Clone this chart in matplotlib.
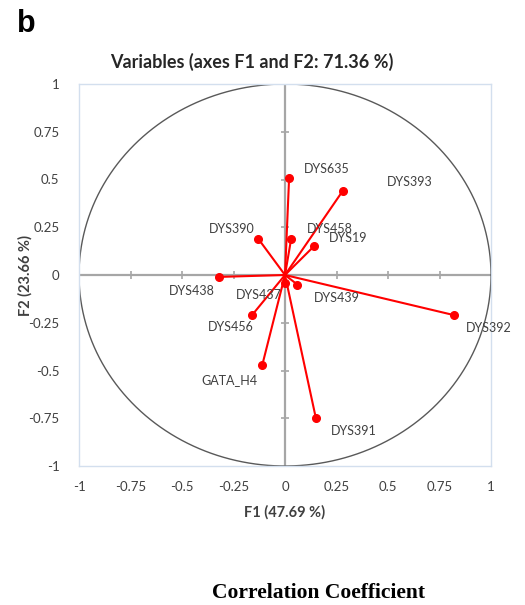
import numpy as np
import matplotlib
matplotlib.use('Agg')
import matplotlib.pyplot as plt

plt.rcParams['font.family'] = ['Lato', 'DejaVu Sans']

# PCA variable coordinates on F1 / F2
variables = ['DYS635', 'DYS393', 'DYS390', 'DYS458', 'DYS19', 'DYS438',
             'DYS437', 'DYS439', 'DYS456', 'GATA_H4', 'DYS391', 'DYS392']
f1 = [0.02, 0.28, -0.13, 0.03, 0.14, -0.32, 0.00, 0.06, -0.16, -0.11, 0.15, 0.82]
f2 = [0.51, 0.44, 0.19, 0.19, 0.15, -0.01, -0.04, -0.05, -0.21, -0.47, -0.75, -0.21]
ticks = [-1, -0.75, -0.5, -0.25, 0, 0.25, 0.5, 0.75, 1]
tick_labels = ['-1', '-0.75', '-0.5', '-0.25', '0', '0.25', '0.5', '0.75', '1']

# label offsets in pixels (dx, dy) from each point
label_offsets = [(38, 9), (67, 9), (-26, 10), (39, 10), (34, 8), (-27, -14),
                 (-26, -12), (39, -13), (-21, -12), (-33, -15), (38, -13), (35, -13)]

TEXT = '#404040'
GRID = '#A6A6A6'
FRAME = '#D3DFEE'

fig = plt.figure(figsize=(5.25, 6.05), dpi=100)
ax = fig.add_axes([79 / 525, 1 - 466 / 605, 412 / 525, 382 / 605])
ax.set_xlim(-1, 1)
ax.set_ylim(-1, 1)

for s in ax.spines.values():
    s.set_color(FRAME)
    s.set_linewidth(1)

# centre axes with cross ticks
ax.axhline(0, color=GRID, lw=1.6, zorder=1)
ax.axvline(0, color=GRID, lw=1.6, zorder=1)
inner = [t for t in ticks if abs(t) < 1]
ax.plot(inner, np.zeros(len(inner)), ls='none', marker='|', ms=6, mew=1.2, color=GRID, zorder=1)
ax.plot(np.zeros(len(inner)), inner, ls='none', marker='_', ms=6, mew=1.2, color=GRID, zorder=1)

# correlation circle
th = np.linspace(0, 2 * np.pi, 400)
ax.plot(np.cos(th), np.sin(th), color='#595959', lw=1.0, zorder=2)

# vectors
for x, y, name, (dx, dy) in zip(f1, f2, variables, label_offsets):
    ax.plot([0, x], [0, y], color='#FF0000', lw=1.5, zorder=3)
    ax.plot(x, y, 'o', color='#FF0000', ms=5.5, zorder=4)
    ax.annotate(name, (x, y), xytext=(dx, dy), textcoords='offset pixels',
                ha='center', va='center', fontsize=9, color=TEXT, zorder=5)

ax.set_xticks(ticks)
ax.set_xticklabels(tick_labels)
ax.set_yticks(ticks)
ax.set_yticklabels(tick_labels)
ax.tick_params(axis='x', length=0, labelsize=9.5, colors=TEXT, pad=11)
ax.tick_params(axis='y', length=0, labelsize=9.5, colors=TEXT, pad=14)

ax.set_xlabel('F1 (47.69 %)', fontsize=10.5, fontweight='bold', color=TEXT)
ax.set_ylabel('F2 (23.66 %)', fontsize=10.5, fontweight='bold', color=TEXT)
ax.xaxis.set_label_coords(0.5, (466 - 512) / 382)
ax.yaxis.set_label_coords((25 - 79) / 412, 0.5)
ax.xaxis.label.set_va('center')
ax.yaxis.label.set_va('center')

fig.text(252 / 525, 1 - 62 / 605, 'Variables (axes F1 and F2: 71.36 %)', ha='center', va='center',
         fontsize=13, fontweight='bold', color='#262626')
fig.text(17 / 525, 1 - 24 / 605, 'b', ha='left', va='center', fontsize=22, fontweight='bold',
         family=['Liberation Sans', 'DejaVu Sans'], color='black')
fig.text(318 / 525, 1 - 593 / 605, 'Correlation Coefficient', ha='center', va='center',
         fontsize=15.5, fontweight='bold', family=['Liberation Serif', 'DejaVu Serif'], color='black')

fig.savefig('out.png', dpi=100, facecolor='white')
